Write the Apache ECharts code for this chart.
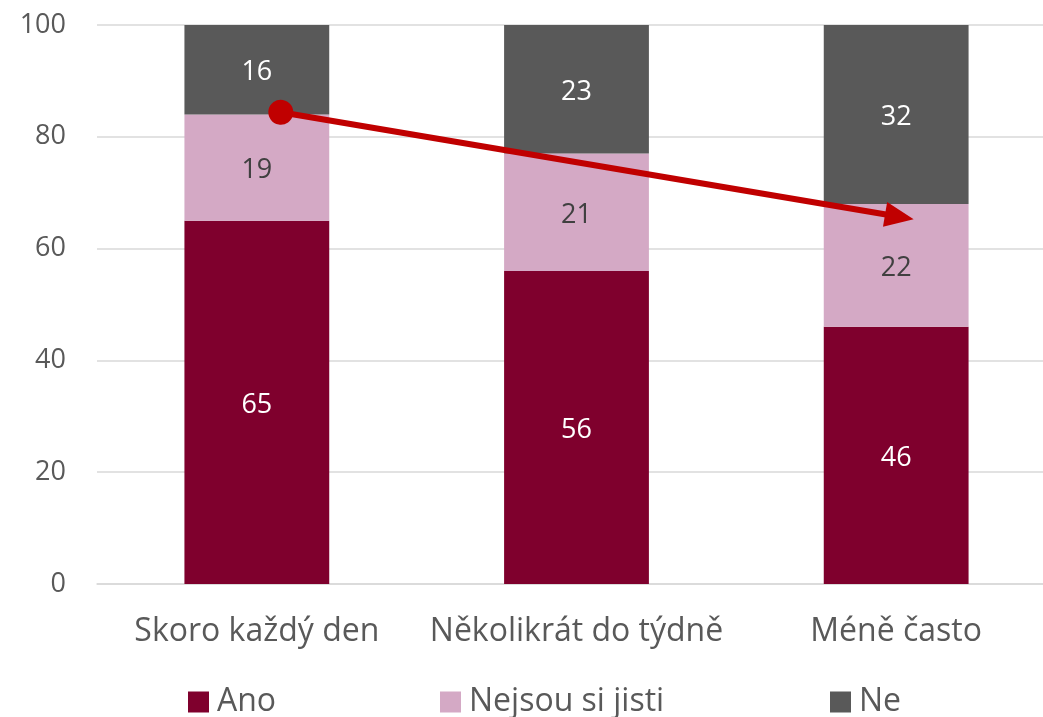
<!DOCTYPE html>
<html>
<head>
<meta charset="utf-8">
<script src="https://cdn.jsdelivr.net/npm/echarts@6/dist/echarts.min.js"></script>
<style>
  html, body { margin: 0; padding: 0; background: #fff; overflow: hidden; }
  #chart { width: 1060px; height: 717px; }
</style>
</head>
<body>
<div id="chart"></div>
<script>
var categories = ['Skoro každý den', 'Několikrát do týdně', 'Méně často']
var seriesNames = ['Ano', 'Nejsou si jisti', 'Ne']
var ano = [65, 56, 46]
var nejsou = [19, 21, 22]
var ne = [16, 23, 32]
var yTicks = { min: 0, max: 100, interval: 20 }
// trend arrow, on a hidden 0..3 axis spanning the categories
var arrowStart = [0.575, 84.4]
var arrowEnd = [2.51, 65.7]

var FONT = '"Open Sans", "Noto Sans", sans-serif'
var colors = ['#7F002D', '#D4A9C5', '#595959']
var labelColors = ['#ffffff', '#404040', '#ffffff']
var legendLeft = [188, 440, 830]

var myChart = echarts.init(document.getElementById('chart'))

function barSeries(i, values) {
  return {
    name: seriesNames[i],
    type: 'bar',
    stack: 'total',
    barWidth: '45.3%',
    data: values,
    itemStyle: { color: colors[i] },
    label: {
      show: true,
      position: 'inside',
      offset: [0, 3],
      color: labelColors[i],
      fontFamily: FONT,
      fontSize: 27,
    },
    emphasis: { disabled: true },
  }
}

var option = {
  animation: false,
  textStyle: { fontFamily: FONT },
  grid: { left: 97, top: 25, width: 959, height: 559 },
  legend: seriesNames.map(function (name, i) {
    return {
      data: [name],
      left: legendLeft[i],
      top: 686,
      padding: 0,
      itemWidth: 21,
      itemHeight: 21,
      itemGap: 0,
      icon: 'rect',
      selectedMode: false,
      textStyle: { fontFamily: FONT, fontSize: 32, color: '#595959', padding: [0, 0, 0, 3] },
    }
  }),
  xAxis: [
    {
      type: 'category',
      data: categories,
      axisLine: { lineStyle: { color: '#d9d9d9', width: 1.5 } },
      axisTick: { show: false },
      axisLabel: { fontFamily: FONT, fontSize: 32, color: '#595959', margin: 32, interval: 0 },
    },
    {
      type: 'value',
      min: 0,
      max: 3,
      show: false,
    },
  ],
  yAxis: {
    type: 'value',
    min: yTicks.min,
    max: yTicks.max,
    interval: yTicks.interval,
    axisLine: { show: false },
    axisTick: { show: false },
    splitLine: { lineStyle: { color: '#d9d9d9', width: 1.5 } },
    axisLabel: { fontFamily: FONT, fontSize: 27, color: '#595959', margin: 31 },
  },
  series: [
    barSeries(0, ano),
    barSeries(1, nejsou),
    barSeries(2, ne),
    {
      type: 'line',
      xAxisIndex: 1,
      data: [],
      silent: true,
      markLine: {
        silent: true,
        symbol: ['circle', 'triangle'],
        symbolSize: [25, 29],
        label: { show: false },
        lineStyle: { color: '#C00000', width: 6, type: 'solid' },
        itemStyle: { color: '#C00000' },
        data: [[{ coord: arrowStart }, { coord: arrowEnd }]],
      },
    },
  ],
}

myChart.setOption(option)
</script>
</body>
</html>
